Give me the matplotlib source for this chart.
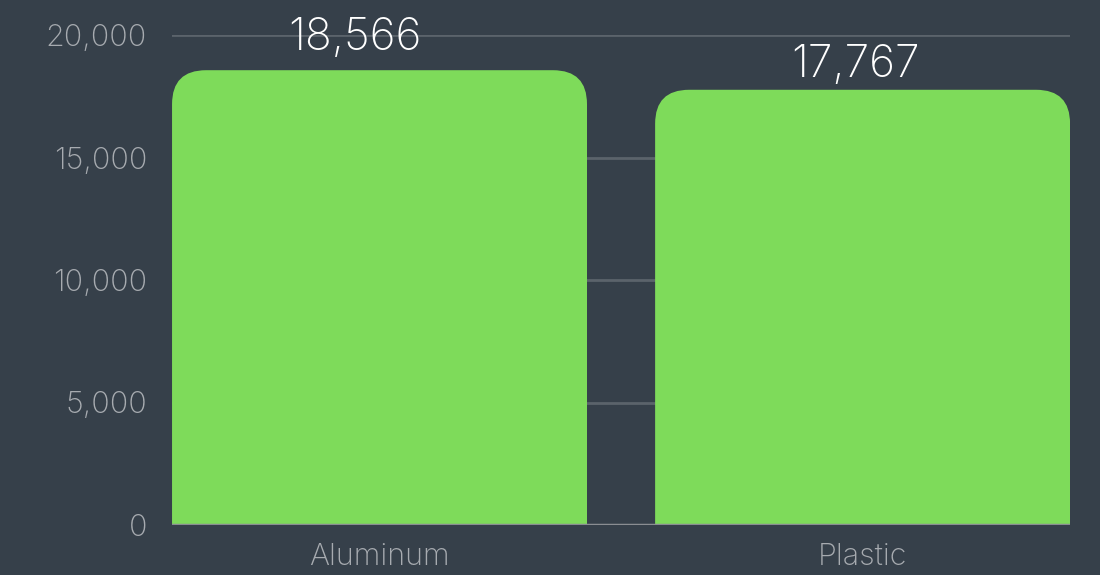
import numpy as np
import matplotlib
matplotlib.use('Agg')
import matplotlib.pyplot as plt
from matplotlib.path import Path
from matplotlib.patches import PathPatch

categories = ['Aluminum', 'Plastic']
values = [18566, 17767]
y_ticks = [0, 5000, 10000, 15000, 20000]

BG = '#36404a'
GREEN = '#7edb5a'
TICK_COLOR = '#a7abb0'
GRID_COLOR = '#5b636b'
BASE_COLOR = '#8a8d92'

plt.rcParams['font.family'] = ['Inter', 'DejaVu Sans']

fig = plt.figure(figsize=(11, 5.75), dpi=100, facecolor=BG)
ax = fig.add_axes([0.1564, 0.087, 0.8164, 0.852])
ax.set_facecolor(BG)

bar_w = 0.859
x = np.arange(len(categories))
bars = ax.bar(x, values, width=bar_w, color=GREEN, zorder=3)
ax.set_xlim(-bar_w / 2, len(categories) - 1 + bar_w / 2)
ax.set_ylim(0, 20000)

# swap square bars for ones with rounded top corners
ax_w_px = fig.get_figwidth() * fig.dpi * ax.get_position().width
ax_h_px = fig.get_figheight() * fig.dpi * ax.get_position().height
r_px = 34
rx = r_px * (ax.get_xlim()[1] - ax.get_xlim()[0]) / ax_w_px
ry = r_px * (ax.get_ylim()[1] - ax.get_ylim()[0]) / ax_h_px
label_nudge = [(-18, 14.5), (-5, 9.5)]  # value labels sit a little off-centre in the original
for b, (dx, dy) in zip(bars, label_nudge):
    x0, w, h = b.get_x(), b.get_width(), b.get_height()
    x1 = x0 + w
    verts = [(x0, 0), (x0, h - ry), (x0, h), (x0 + rx, h),
             (x1 - rx, h), (x1, h), (x1, h - ry), (x1, 0), (x0, 0)]
    codes = [Path.MOVETO, Path.LINETO, Path.CURVE3, Path.CURVE3,
             Path.LINETO, Path.CURVE3, Path.CURVE3, Path.LINETO, Path.CLOSEPOLY]
    ax.add_patch(PathPatch(Path(verts, codes), facecolor=GREEN, edgecolor='none', zorder=3))
    b.set_visible(False)
    ax.annotate(f'{h:,.0f}', (x0 + w / 2, h), xytext=(dx, dy), textcoords='offset points',
                ha='center', va='baseline', color='white', fontsize=32, fontweight='light', zorder=5)

ax.set_yticks(y_ticks)
ax.set_yticklabels([f'{v:,}' for v in y_ticks])
ax.set_xticks(x)
ax.set_xticklabels(categories)
ax.tick_params(axis='y', length=0, pad=18, labelsize=22, labelcolor=TICK_COLOR)
ax.tick_params(axis='x', length=0, pad=13, labelsize=22, labelcolor=TICK_COLOR)
for lab in ax.get_yticklabels() + ax.get_xticklabels():
    lab.set_fontweight('light')

for v in y_ticks[1:]:
    ax.axhline(v, color=GRID_COLOR, lw=2, zorder=1)
ax.axhline(0, color=BASE_COLOR, lw=2.5, zorder=4)

for s in ax.spines.values():
    s.set_visible(False)

fig.savefig('out.png', dpi=100, facecolor=BG)
